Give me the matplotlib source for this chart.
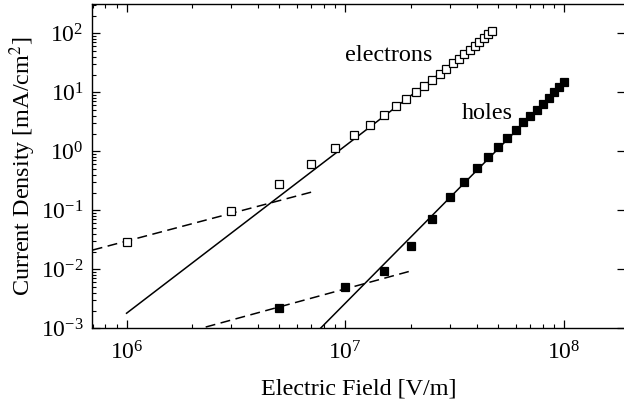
import numpy as np
import matplotlib
matplotlib.use("Agg")
import matplotlib.pyplot as plt
from matplotlib.ticker import LogLocator, NullFormatter

plt.rcParams['font.family'] = ['Liberation Serif', 'DejaVu Serif']
plt.rcParams['mathtext.fontset'] = 'stix'

# Measured current density vs. applied field
e_field_electrons = [1e6, 3e6, 5e6, 7e6, 9e6, 1.1e7, 1.3e7, 1.5e7, 1.7e7, 1.9e7,
                     2.1e7, 2.3e7, 2.5e7, 2.7e7, 2.9e7, 3.1e7, 3.3e7, 3.5e7,
                     3.7e7, 3.9e7, 4.1e7, 4.3e7, 4.5e7, 4.7e7]
j_electrons = [0.029, 0.098, 0.276, 0.61, 1.14, 1.89, 2.82, 4.12, 5.79, 7.7,
               10.0, 12.9, 16.4, 20.2, 25.1, 31.0, 37.0, 44.4,
               52.7, 61.5, 72.0, 83.0, 96.0, 110.0]

e_field_holes = [5e6, 1e7, 1.5e7, 2e7, 2.5e7, 3e7, 3.5e7, 4e7, 4.5e7, 5e7,
                 5.5e7, 6e7, 6.5e7, 7e7, 7.5e7, 8e7, 8.5e7, 9e7, 9.5e7, 1e8]
j_holes = [0.00223, 0.00507, 0.00935, 0.0251, 0.0713, 0.166, 0.305, 0.515, 0.81, 1.20,
           1.70, 2.30, 3.10, 3.97, 5.01, 6.41, 8.0, 10.0, 12.2, 15.1]

# Fitted regimes: ohmic (dashed) and high-field power law (solid)
ohmic_e_field = [7.0e5, 7.3e6]
ohmic_j = [0.0212, 0.212]
power_e_field = [1e6, 4.7e7]
power_j = [0.0018, 100.0]

ohmic_h_field = [2.3e6, 2.0e7]
ohmic_h_j = [0.00105, 0.0094]
power_h_field = [7.7e6, 1e8]
power_h_j = [0.001, 14.8]

fig = plt.figure(figsize=(6.24, 4.05), dpi=100)
ax = fig.add_axes([92 / 624, 76.7 / 405, 533 / 624, 324.3 / 405])

ax.plot(ohmic_e_field, ohmic_j, color='black', lw=1.1, dashes=(6.5, 3.6))
ax.plot(power_e_field, power_j, color='black', lw=1.1)
ax.plot(ohmic_h_field, ohmic_h_j, color='black', lw=1.1, dashes=(6.5, 3.6))
ax.plot(power_h_field, power_h_j, color='black', lw=1.1)

ax.plot(e_field_electrons, j_electrons, ls='none', marker='s', ms=6.2,
        mfc='white', mec='black', mew=0.9)
ax.plot(e_field_holes, j_holes, ls='none', marker='s', ms=6.4,
        mfc='black', mec='black', mew=0.9)

ax.set_xscale('log')
ax.set_yscale('log')
ax.set_xlim(6.95e5, 1.90e8)
ax.set_ylim(1e-3, 314)

ax.xaxis.set_major_locator(LogLocator(base=10, numticks=10))
ax.xaxis.set_minor_locator(LogLocator(base=10, subs=np.arange(2, 10), numticks=10))
ax.xaxis.set_minor_formatter(NullFormatter())
ax.yaxis.set_major_locator(LogLocator(base=10, numticks=10))
ax.yaxis.set_minor_locator(LogLocator(base=10, subs=np.arange(2, 10), numticks=10))
ax.yaxis.set_minor_formatter(NullFormatter())

ax.tick_params(which='major', direction='in', length=6, width=0.9,
               top=True, right=True, labelsize=17, colors='black')
ax.tick_params(axis='x', which='major', pad=9)
ax.tick_params(axis='y', which='major', pad=6)
ax.tick_params(which='minor', direction='in', length=3, width=0.8,
               top=True, right=False)

for s in ax.spines.values():
    s.set_linewidth(1.0)

ax.set_xlabel('Electric Field [V/m]', fontsize=17.4, labelpad=10.5)
ax.set_ylabel(r'Current Density [mA/cm$^2$]', fontsize=17.4, labelpad=1.8)

ax.text(1.58e7, 42.9, 'electrons', fontsize=17.4, ha='center', va='center')
ax.text(4.48e7, 4.46, 'holes', fontsize=17.4, ha='center', va='center')

fig.savefig('out.png', dpi=100)
